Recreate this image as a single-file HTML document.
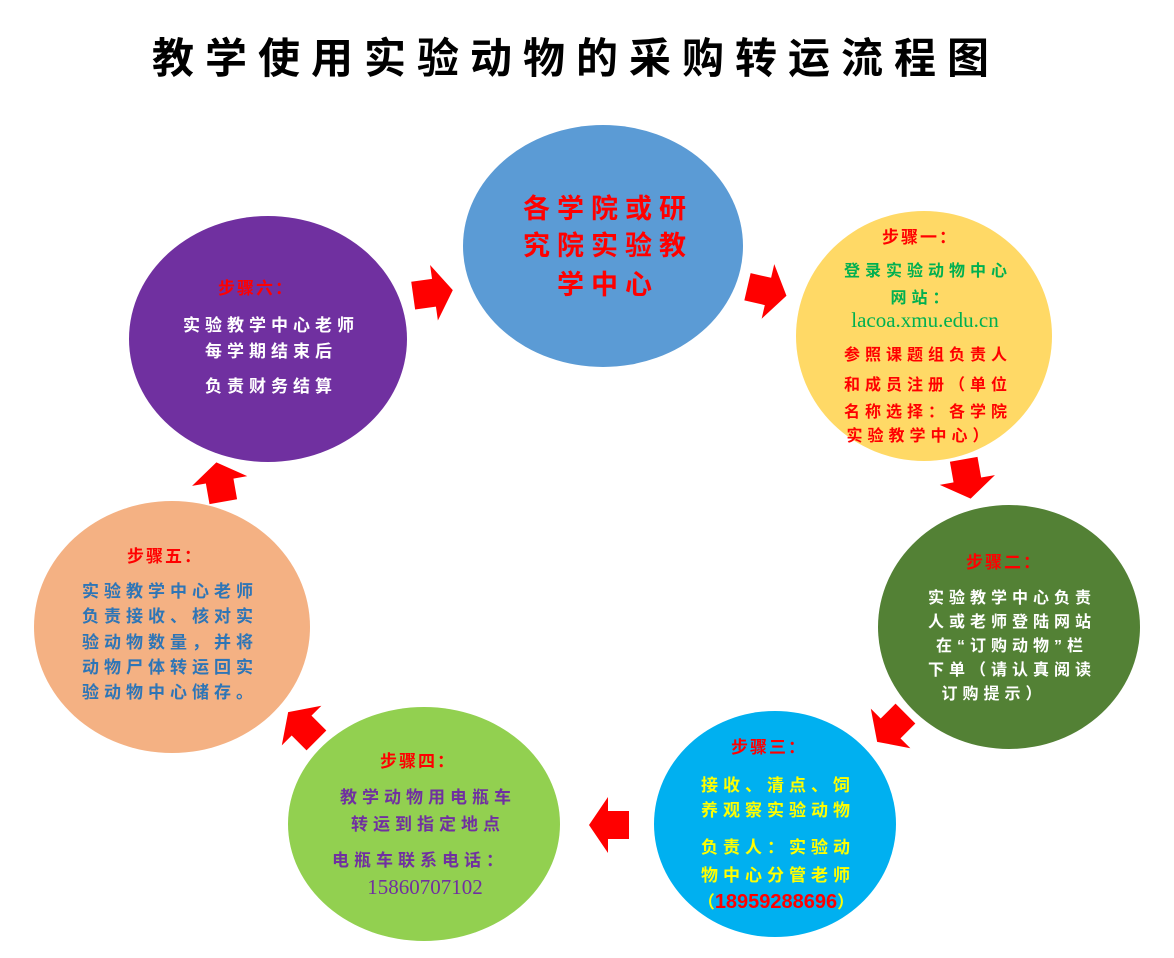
<!DOCTYPE html>
<html><head><meta charset="utf-8"><style>
html,body{margin:0;padding:0;background:#fff;}
svg{display:block;}
text{font-family:"Liberation Sans","Noto Sans CJK SC",sans-serif;font-weight:bold;text-anchor:middle;}
.s{font-size:17px;fill:#FF0000;letter-spacing:2px;}
.b{font-size:17px;letter-spacing:5px;}
.u{font-family:"Liberation Serif","Noto Serif CJK SC",serif;font-weight:normal;}
</style></head><body>
<svg width="1174" height="958" viewBox="0 0 1174 958">
<defs>
<polygon id="ar" points="-19,-14 2,-14 2,-28 21,0 2,28 2,14 -19,14" fill="#FF0000"/>
</defs>
<text x="576" y="73" style="font-size:42px;letter-spacing:11px;fill:#000">教学使用实验动物的采购转运流程图</text>

<ellipse cx="603" cy="246" rx="140" ry="121" fill="#5B9BD5"/>
<ellipse cx="924" cy="336" rx="128" ry="125" fill="#FFD966"/>
<ellipse cx="1009" cy="627" rx="131" ry="122" fill="#538135"/>
<ellipse cx="775" cy="824" rx="121" ry="113" fill="#00B0F0"/>
<ellipse cx="424" cy="824" rx="136" ry="117" fill="#92D050"/>
<ellipse cx="172" cy="627" rx="138" ry="126" fill="#F4B183"/>
<ellipse cx="268" cy="339" rx="139" ry="123" fill="#7030A0"/>

<use href="#ar" transform="translate(432,293) rotate(-8)"/>
<use href="#ar" transform="translate(766,291) rotate(13)"/>
<use href="#ar" transform="translate(967,478) rotate(80)"/>
<use href="#ar" transform="translate(892,727) rotate(135)"/>
<use href="#ar" transform="translate(610,825) rotate(180)"/>
<use href="#ar" transform="translate(303,727) rotate(225)"/>
<use href="#ar" transform="translate(220,483) rotate(-100)"/>

<g style="fill:#FF0000;font-size:27px;letter-spacing:7px">
<text x="608" y="218">各学院或研</text>
<text x="608" y="255">究院实验教</text>
<text x="608" y="294">学中心</text>
</g>

<text class="s" x="920" y="243">步骤一：</text>
<g class="b" style="fill:#00B050;font-size:16px">
<text x="928" y="276">登录实验动物中心</text>
<text x="922" y="303">网站：</text>
</g>
<text class="u" x="925" y="327" style="font-size:21px;fill:#00B050">lacoa.xmu.edu.cn</text>
<g class="b" style="fill:#FF0000;font-size:16px">
<text x="928" y="360">参照课题组负责人</text>
<text x="928" y="390">和成员注册（单位</text>
<text x="928" y="417">名称选择：各学院</text>
<text x="920" y="441">实验教学中心）</text>
</g>

<text class="s" x="1004" y="568">步骤二：</text>
<g class="b" style="fill:#fff;font-size:16px">
<text x="1012" y="603">实验教学中心负责</text>
<text x="1012" y="627">人或老师登陆网站</text>
<text x="1012" y="651">在“订购动物”栏</text>
<text x="1012" y="675">下单（请认真阅读</text>
<text x="994" y="699">订购提示）</text>
</g>

<text class="s" x="769" y="753">步骤三：</text>
<g class="b" style="fill:#FFFF00;font-size:17px">
<text x="778" y="791">接收、清点、饲</text>
<text x="778" y="816">养观察实验动物</text>
<text x="778" y="853">负责人：实验动</text>
<text x="778" y="881">物中心分管老师</text>
<text x="776" y="908" style="letter-spacing:0">（<tspan style="fill:#FF0000;font-size:20px">18959288696</tspan>）</text>
</g>

<text class="s" x="418" y="767">步骤四：</text>
<g class="b" style="fill:#7030A0;font-size:17px">
<text x="428" y="803">教学动物用电瓶车</text>
<text x="428" y="830">转运到指定地点</text>
<text x="420" y="866">电瓶车联系电话：</text>
</g>
<text class="u" x="425" y="894" style="font-size:21px;fill:#7030A0">15860707102</text>

<text class="s" x="165" y="562">步骤五：</text>
<g class="b" style="fill:#2E75B6;font-size:17px">
<text x="82" y="597" style="text-anchor:start">实验教学中心老师</text>
<text x="82" y="622" style="text-anchor:start">负责接收、核对实</text>
<text x="82" y="648" style="text-anchor:start">验动物数量，并将</text>
<text x="82" y="673" style="text-anchor:start">动物尸体转运回实</text>
<text x="82" y="698" style="text-anchor:start">验动物中心储存。</text>
</g>

<text class="s" x="256" y="294">步骤六：</text>
<g class="b" style="fill:#fff;font-size:17px">
<text x="271" y="331">实验教学中心老师</text>
<text x="271" y="357">每学期结束后</text>
<text x="271" y="392">负责财务结算</text>
</g>
</svg>
</body></html>
